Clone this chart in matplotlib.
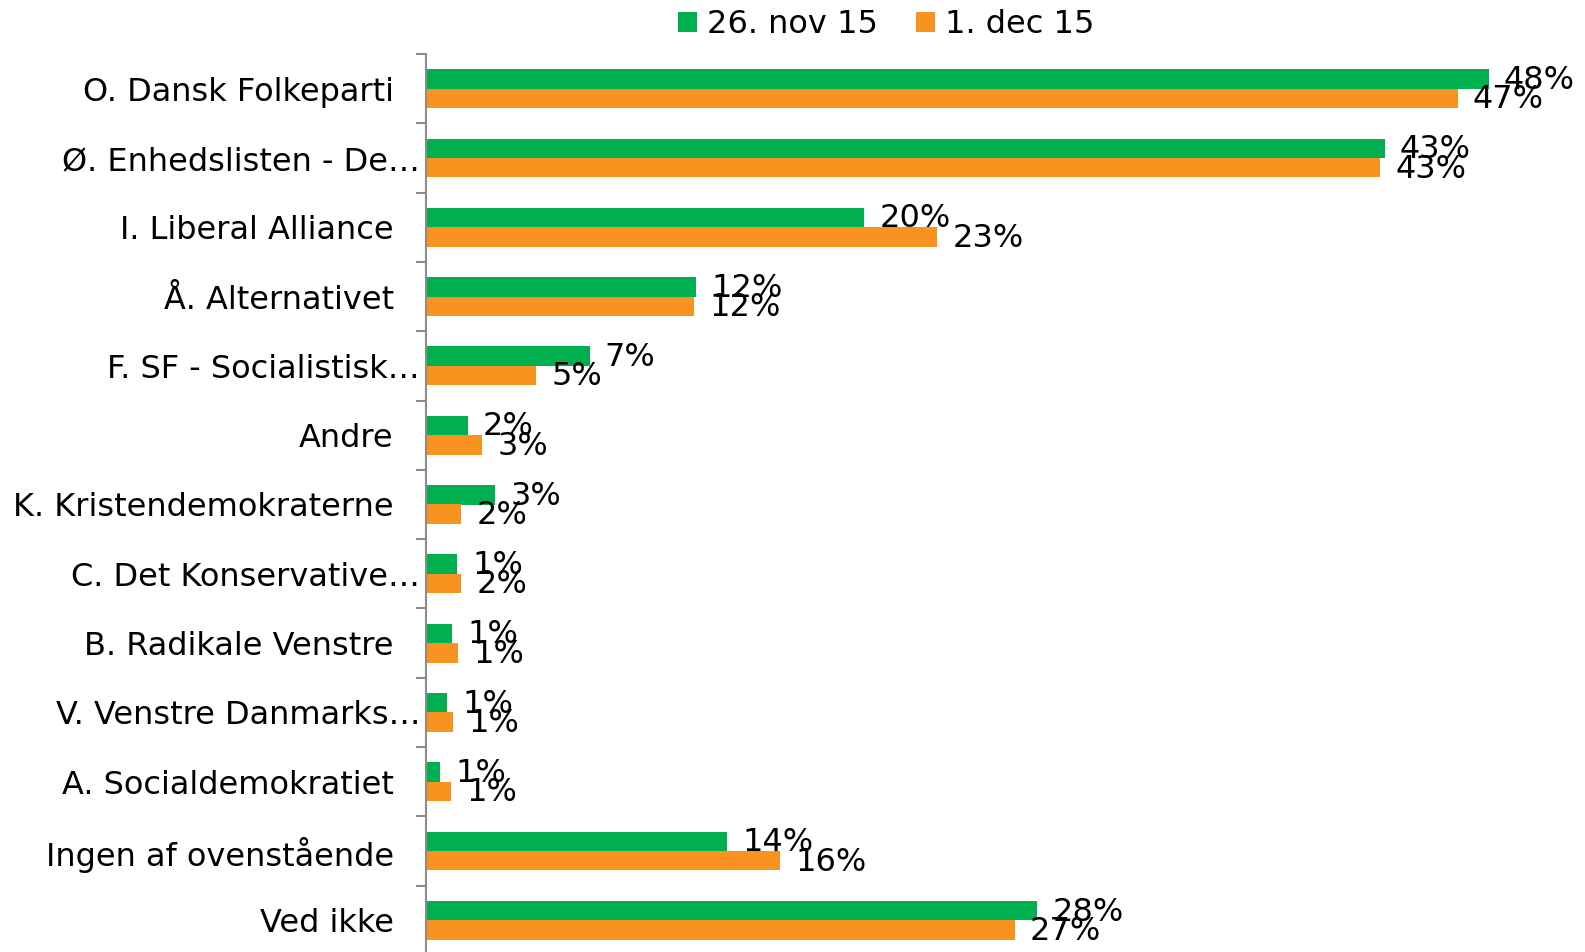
import matplotlib
matplotlib.use("Agg")
import matplotlib.pyplot as plt
import numpy as np

categories = ["O. Dansk Folkeparti", "Ø. Enhedslisten - De…", "I. Liberal Alliance",
              "Å. Alternativet", "F. SF - Socialistisk…", "Andre", "K. Kristendemokraterne",
              "C. Det Konservative…", "B. Radikale Venstre", "V. Venstre Danmarks…",
              "A. Socialdemokratiet", "Ingen af ovenstående", "Ved ikke"]
truncated = [False, True, False, False, True, False, False, True, False, True, False, False, False]
series_names = ["26. nov 15", "1. dec 15"]
nov26 = [48.0, 43.3, 19.8, 12.2, 7.4, 1.9, 3.15, 1.4, 1.2, 0.95, 0.65, 13.6, 27.6]
dec1 = [46.6, 43.1, 23.1, 12.1, 5.0, 2.55, 1.6, 1.6, 1.45, 1.22, 1.13, 16.0, 26.6]

green = "#00B050"
orange = "#F7931E"
fs = 23

plt.rcParams['font.family'] = ['DejaVu Sans']
fig = plt.figure(figsize=(15.85, 9.52), dpi=100)
ax = fig.add_axes([425.7/1585, -3/952, (1533-425.7)/1585, (955-54)/952])

n = len(categories)
y = np.arange(n)
h = 0.28
b1 = ax.barh(y - h/2, nov26, height=h, color=green, label=series_names[0])
b2 = ax.barh(y + h/2, dec1, height=h, color=orange, label=series_names[1])

for bars, vals in ((b1, nov26), (b2, dec1)):
    for rect, v in zip(bars, vals):
        ax.annotate(f"{int(np.floor(v + 0.5))}%", (rect.get_width(), rect.get_y() + rect.get_height()/2),
                    xytext=(11, -1), textcoords="offset points", ha="left", va="center",
                    fontsize=fs, color="black", annotation_clip=False)

ax.set_xlim(0, 50)
ax.set_ylim(n - 0.5, -0.5)
ax.set_yticks(y)
ax.set_yticklabels(categories, fontsize=fs)
ax.set_yticks(np.arange(-0.5, n, 1), minor=True)
ax.tick_params(axis='y', which='major', length=0, pad=23)
ax.tick_params(axis='y', which='minor', length=7, width=1.5, color="#8c8c8c")
for t, tr in zip(ax.yaxis.get_major_ticks(), truncated):
    if tr:
        t.set_pad(4)
ax.set_xticks([])
for s in ("top", "right", "bottom"):
    ax.spines[s].set_visible(False)
ax.spines["left"].set_color("#8c8c8c")
ax.spines["left"].set_linewidth(1.5)

fig.legend(handles=[b1, b2], labels=series_names, loc="upper center", bbox_to_anchor=(886/1585, 1.004),
           ncol=2, frameon=False, fontsize=fs, handlelength=0.6, handleheight=0.6,
           handletextpad=0.3, columnspacing=1.2, borderaxespad=0)

fig.savefig("out.png", dpi=100)
